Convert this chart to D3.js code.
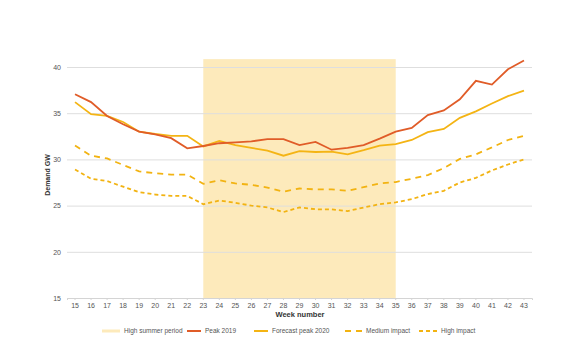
<!DOCTYPE html>
<html><head><meta charset="utf-8">
<script src="https://cdn.jsdelivr.net/npm/d3@7"></script>
<style>body{margin:0;background:#fff;font-family:"Liberation Sans",Arial,sans-serif}</style>
</head><body><svg id="c" width="582" height="340"></svg>
<script>
const weeks = d3.range(15, 44);
const peak2019 = [37.05,36.2,34.7,33.8,33.0,32.7,32.3,31.2,31.45,31.75,31.85,31.95,32.2,32.2,31.55,31.9,31.05,31.25,31.55,32.25,33.0,33.4,34.8,35.3,36.5,38.5,38.1,39.75,40.7];
const forecast2020 = [36.2,34.9,34.7,34.05,33.0,32.75,32.55,32.55,31.4,32.0,31.55,31.25,30.95,30.4,30.9,30.8,30.85,30.55,31.0,31.5,31.65,32.1,32.95,33.3,34.5,35.2,36.05,36.85,37.45];
const mediumImpact = [31.5,30.4,30.1,29.4,28.7,28.5,28.35,28.35,27.35,27.75,27.4,27.25,26.95,26.5,26.85,26.75,26.75,26.6,27.0,27.4,27.55,27.9,28.3,29.05,30.05,30.55,31.3,32.1,32.55];
const highImpact = [28.9,27.9,27.65,27.05,26.45,26.2,26.05,26.05,25.15,25.55,25.3,25.0,24.8,24.3,24.8,24.6,24.6,24.4,24.8,25.15,25.35,25.7,26.25,26.6,27.5,28.0,28.8,29.45,30.0];
const yTicks = [15,20,25,30,35,40];
const summerStart = 23, summerEnd = 35;

const svg = d3.select("#c");
const x = d3.scaleBand().domain(weeks).range([67,532]);
const xc = w => x(w) + x.bandwidth()/2;
const y = d3.scaleLinear().domain([15,40]).range([298,67]);

// shading
svg.append("rect").attr("x", xc(summerStart)).attr("width", xc(summerEnd)-xc(summerStart))
  .attr("y", y(40.85)).attr("height", y(15)-y(40.85)).attr("fill","#fdeabb");

// grid
const yAx = svg.append("g").attr("transform","translate(67,0)")
  .call(d3.axisLeft(y).tickValues(yTicks).tickSize(-465).tickPadding(6));
yAx.select(".domain").remove();
yAx.selectAll("line").attr("stroke","#dedede").attr("stroke-width",1);
yAx.selectAll("text").attr("fill","#555").style("font-size","7px").style("font-family","Liberation Sans, Arial");

const xAx = svg.append("g").attr("transform","translate(0,298)")
  .call(d3.axisBottom(x).tickSize(2).tickPadding(3));
xAx.select(".domain").attr("stroke","#d4d4d4");
xAx.selectAll("line").attr("stroke","#d4d4d4");
xAx.selectAll("text").attr("fill","#555").style("font-size","7px").style("font-family","Liberation Sans, Arial");

svg.append("text").attr("x",300).attr("y",317).attr("text-anchor","middle")
  .style("font-size","7.5px").style("font-weight","bold").attr("fill","#333").text("Week number");
svg.append("text").attr("transform","translate(50,175) rotate(-90)").attr("text-anchor","middle")
  .style("font-size","7px").style("font-weight","bold").attr("fill","#333").text("Demand GW");

const line = d3.line().x((d,i)=>xc(weeks[i])).y(d=>y(d));
const series = [
  {data: highImpact, color:"#f2b312", dash:"4,3"},
  {data: mediumImpact, color:"#f2b312", dash:"6,5"},
  {data: forecast2020, color:"#f4b414", dash:null},
  {data: peak2019, color:"#e05c28", dash:null}
];
series.forEach(s=>{
  svg.append("path").datum(s.data).attr("d",line).attr("fill","none")
    .attr("stroke",s.color).attr("stroke-width",1.8).attr("stroke-dasharray",s.dash);
});

// legend
const lg = svg.append("g").style("font-size","6.5px").attr("fill","#555");
const items = [
  {label:"High summer period", x:102, color:"#fdeabb", dash:null, w:18, sw:3},
  {label:"Peak 2019", x:187, color:"#e05c28", dash:null, w:14, sw:2},
  {label:"Forecast peak 2020", x:254, color:"#f4b414", dash:null, w:14, sw:2},
  {label:"Medium impact", x:345, color:"#f2b312", dash:"6,5", w:17, sw:2},
  {label:"High impact", x:419, color:"#f2b312", dash:"4,3", w:18, sw:2}
];
items.forEach(it=>{
  lg.append("line").attr("x1",it.x).attr("x2",it.x+it.w).attr("y1",331).attr("y2",331)
    .attr("stroke",it.color).attr("stroke-width",it.sw).attr("stroke-dasharray",it.dash);
  lg.append("text").attr("x",it.x+it.w+4).attr("y",333.3).text(it.label);
});
</script></body></html>
